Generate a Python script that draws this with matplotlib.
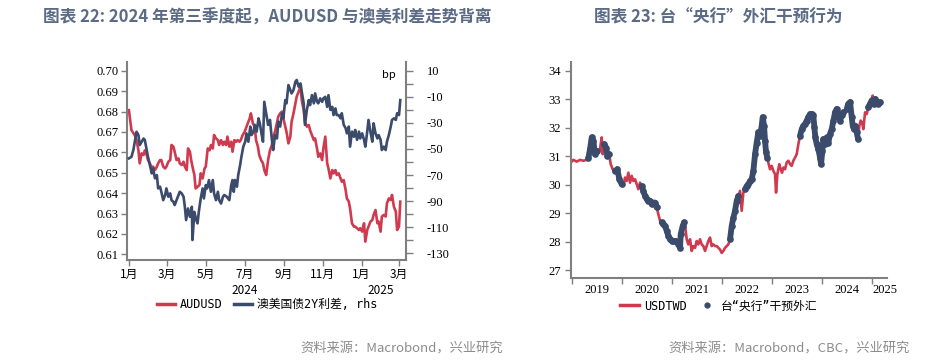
import matplotlib
matplotlib.use("Agg")
import matplotlib.pyplot as plt
import matplotlib.dates as mdates
import matplotlib.transforms as mtrans
from matplotlib.lines import Line2D
import numpy as np
import pandas as pd

# ---------------- data: chart 22 ----------------
base_date = "2024-01-01"
aud_days = [0, 2, 4, 9, 12, 15, 17, 20, 23, 25, 28, 30, 33, 36, 38, 41, 44, 46, 49, 51, 54, 57, 59, 62, 65,
            67, 70, 72, 75, 78, 80, 83, 86, 88, 91, 93, 96, 98, 100, 103, 105, 108, 111, 113, 116, 119, 121,
            124, 127, 129, 132, 134, 137, 140, 142, 145, 148, 150, 153, 155, 158, 161, 163, 166, 169, 171,
            174, 176, 179, 182, 184, 187, 190, 192, 195, 198, 200, 203, 205, 208, 211, 213, 216, 219, 222,
            225, 227, 230, 235, 238, 241, 243, 246, 248, 251, 254, 256, 259, 262, 264, 267, 270, 272, 275,
            277, 280, 283, 285, 288, 291, 293, 296, 298, 301, 304, 306, 309, 312, 314, 317, 320, 322, 325,
            327, 330, 333, 335, 338, 341, 343, 346, 348, 351, 354, 356, 359, 362, 364, 367, 370, 372, 375,
            377, 380, 383, 385, 388, 391, 393, 396, 398, 401, 404, 406, 409, 412, 414, 417, 420, 422, 425, 427]
audusd = [0.6807, 0.6758, 0.6709, 0.6685, 0.6660, 0.6610, 0.6546, 0.6595, 0.6587, 0.6610, 0.6587, 0.6562,
          0.6546, 0.6521, 0.6530, 0.6513, 0.6530, 0.6546, 0.6562, 0.6562, 0.6530, 0.6521, 0.6530, 0.6554,
          0.6562, 0.6636, 0.6628, 0.6603, 0.6562, 0.6570, 0.6546, 0.6538, 0.6554, 0.6530, 0.6513, 0.6619,
          0.6603, 0.6562, 0.6530, 0.6489, 0.6423, 0.6431, 0.6440, 0.6497, 0.6472, 0.6521, 0.6530, 0.6619,
          0.6610, 0.6636, 0.6619, 0.6685, 0.6668, 0.6660, 0.6636, 0.6660, 0.6636, 0.6652, 0.6636, 0.6677,
          0.6628, 0.6652, 0.6603, 0.6660, 0.6652, 0.6660, 0.6652, 0.6660, 0.6685, 0.6700, 0.6717, 0.6742,
          0.6766, 0.6791, 0.6742, 0.6726, 0.6660, 0.6628, 0.6587, 0.6562, 0.6546, 0.6513, 0.6489, 0.6562,
          0.6610, 0.6636, 0.6677, 0.6702, 0.6775, 0.6791, 0.6800, 0.6767, 0.6726, 0.6700, 0.6644, 0.6677,
          0.6750, 0.6791, 0.6840, 0.6873, 0.6897, 0.6922, 0.6856, 0.6807, 0.6750, 0.6726, 0.6734, 0.6709,
          0.6685, 0.6660, 0.6668, 0.6619, 0.6578, 0.6595, 0.6562, 0.6619, 0.6677, 0.6546, 0.6521, 0.6472,
          0.6513, 0.6497, 0.6513, 0.6489, 0.6497, 0.6472, 0.6456, 0.6464, 0.6415, 0.6374, 0.6358, 0.6325,
          0.6252, 0.6236, 0.6236, 0.6228, 0.6219, 0.6228, 0.6211, 0.6252, 0.6162, 0.6219, 0.6236, 0.6260,
          0.6268, 0.6293, 0.6317, 0.6252, 0.6260, 0.6211, 0.6285, 0.6293, 0.6285, 0.6350, 0.6374, 0.6366,
          0.6391, 0.6333, 0.6309, 0.6219, 0.6236, 0.6358]

spread_days = [0, 4, 7, 12, 15, 17, 23, 25, 28, 30, 33, 36, 38, 41, 44, 46, 49, 51, 54, 57, 59, 62, 65, 67,
               70, 72, 75, 78, 80, 83, 86, 88, 90, 93, 96, 99, 100, 103, 106, 108, 110, 113, 116, 118, 121,
               123, 126, 129, 132, 134, 137, 140, 142, 145, 148, 150, 154, 158, 161, 163, 165, 167, 170, 172,
               175, 177, 180, 183, 185, 188, 191, 193, 196, 198, 201, 204, 206, 209, 211, 213, 216, 219, 222,
               225, 227, 230, 233, 235, 238, 241, 243, 246, 248, 251, 254, 256, 259, 262, 264, 267, 270, 272,
               275, 277, 280, 283, 285, 288, 291, 293, 296, 298, 301, 304, 306, 309, 312, 314, 317, 320, 322,
               325, 327, 330, 333, 335, 338, 341, 343, 346, 348, 351, 354, 356, 359, 362, 364, 367, 370, 372,
               375, 377, 380, 383, 385, 388, 391, 393, 396, 398, 401, 404, 406, 409, 412, 414, 417, 420, 422,
               425, 427]
spread_2y = [-57.2, -56.0, -50.8, -36.8, -39.3, -47.0, -42.0, -43.0, -50.8, -56.0, -62.3, -68.7, -64.9, -72.5,
             -70.0, -80.2, -78.9, -82.8, -89.2, -85.3, -80.2, -86.6, -84.0, -89.2, -90.5, -93.0, -89.2, -85.3,
             -82.8, -84.0, -86.6, -94.3, -104.5, -95.6, -102.0, -94.3, -119.8, -98.2, -104.5, -107.0, -98.2,
             -87.9, -80.2, -87.9, -77.7, -80.2, -73.8, -82.8, -73.8, -84.0, -89.2, -82.8, -89.2, -91.8, -86.6,
             -85.3, -86.6, -89.2, -77.7, -73.8, -82.8, -73.8, -78.9, -70.0, -62.3, -56.0, -48.2, -44.4, -38.0,
             -44.4, -32.8, -39.3, -36.7, -31.5, -36.7, -26.5, -30.3, -39.3, -44.4, -13.8, -22.8, -31.5, -27.7,
             -43.0, -50.8, -39.3, -41.9, -29.0, -32.8, -22.6, -26.5, -12.5, -15.0, -1.0, -4.8, -7.4, -4.8, 1.6,
             2.9, -2.2, 0.3, -6.1, -15.0, -31.5, -20.0, -12.5, -16.4, -8.7, -15.0, -7.4, -13.8, -15.0, -11.2,
             -13.8, -11.2, -10.0, -17.7, -8.7, -20.0, -17.7, -24.0, -18.9, -24.0, -24.0, -26.5, -22.6, -31.5,
             -34.0, -38.0, -32.8, -48.2, -36.7, -40.6, -35.4, -43.0, -36.7, -41.9, -38.0, -43.0, -48.2, -36.7,
             -27.7, -36.7, -44.4, -30.3, -38.0, -41.9, -39.3, -43.0, -50.8, -48.2, -50.8, -44.4, -39.3, -32.8,
             -27.7, -26.5, -27.7, -22.6, -24.0, -12.5]

month_ticks = [1, 3, 5, 7, 9, 11]
year_labels_22 = ["2024", "2025"]
year_label_dates_22 = ["2024-07-01", "2025-02-01"]

# ---------------- data: chart 23 ----------------
twd_time = [2019.000, 2019.033, 2019.100, 2019.167, 2019.233, 2019.300, 2019.333, 2019.367, 2019.400, 2019.433,
            2019.467, 2019.500, 2019.533, 2019.567, 2019.600, 2019.620, 2019.647, 2019.687, 2019.713, 2019.750,
            2019.780, 2019.820, 2019.867, 2019.913, 2019.953, 2020.000, 2020.033, 2020.067, 2020.100, 2020.133,
            2020.167, 2020.200, 2020.233, 2020.267, 2020.300, 2020.333, 2020.367, 2020.400, 2020.433, 2020.467,
            2020.500, 2020.533, 2020.567, 2020.600, 2020.633, 2020.667, 2020.700, 2020.733, 2020.767, 2020.800,
            2020.833, 2020.867, 2020.900, 2020.933, 2020.967, 2021.000, 2021.033, 2021.067, 2021.100, 2021.133,
            2021.167, 2021.180, 2021.220, 2021.247, 2021.273, 2021.300, 2021.333, 2021.367, 2021.400, 2021.433,
            2021.467, 2021.500, 2021.533, 2021.567, 2021.600, 2021.633, 2021.667, 2021.700, 2021.733, 2021.767,
            2021.800, 2021.833, 2021.867, 2021.900, 2021.933, 2021.967, 2022.000, 2022.033, 2022.067, 2022.100,
            2022.133, 2022.167, 2022.200, 2022.233, 2022.267, 2022.300, 2022.333, 2022.367, 2022.400, 2022.433,
            2022.467, 2022.500, 2022.533, 2022.567, 2022.600, 2022.633, 2022.667, 2022.700, 2022.733, 2022.767,
            2022.800, 2022.820, 2022.847, 2022.867, 2022.887, 2022.913, 2022.940, 2022.967, 2023.000, 2023.033,
            2023.067, 2023.087, 2023.113, 2023.153, 2023.180, 2023.207, 2023.233, 2023.267, 2023.300, 2023.333,
            2023.367, 2023.400, 2023.433, 2023.467, 2023.500, 2023.533, 2023.567, 2023.600, 2023.633, 2023.667,
            2023.700, 2023.733, 2023.767, 2023.800, 2023.833, 2023.853, 2023.873, 2023.900, 2023.933, 2023.967,
            2023.987, 2024.013, 2024.033, 2024.067, 2024.100, 2024.133, 2024.167, 2024.200, 2024.233, 2024.267,
            2024.300, 2024.333, 2024.367, 2024.400, 2024.433, 2024.467, 2024.500, 2024.533, 2024.567, 2024.600,
            2024.620, 2024.647, 2024.673, 2024.700, 2024.727, 2024.753, 2024.780, 2024.807, 2024.833, 2024.867,
            2024.900, 2024.933, 2024.967, 2025.000, 2025.020, 2025.047, 2025.073, 2025.100, 2025.133, 2025.167]
usdtwd = [30.81, 30.87, 30.81, 30.87, 30.84, 30.87, 30.93, 31.25, 31.66, 31.54,
          31.07, 31.19, 31.13, 31.25, 31.66, 31.07, 31.42, 31.30, 31.01, 31.07,
          30.72, 30.54, 30.48, 30.54, 30.19, 30.01, 29.95, 30.25, 30.13, 30.42,
          30.07, 30.31, 30.13, 30.19, 30.01, 29.84, 30.07, 29.95, 29.78, 29.60,
          29.49, 29.43, 29.43, 29.31, 29.37, 29.37, 29.20, 28.96, 28.73, 28.67,
          28.61, 28.55, 28.37, 28.20, 28.08, 28.02, 28.02, 28.02, 28.08, 27.90,
          27.78, 28.26, 28.55, 28.67, 28.49, 28.08, 27.90, 28.08, 27.67, 27.84,
          27.78, 28.02, 27.90, 28.08, 27.90, 27.84, 27.67, 27.84, 28.02, 28.14,
          27.84, 27.90, 27.84, 27.84, 27.78, 27.72, 27.60, 27.67, 27.78, 27.84,
          27.90, 28.08, 28.55, 28.84, 29.08, 29.43, 29.60, 29.78, 29.08, 29.72,
          29.84, 29.95, 30.01, 30.13, 30.19, 30.48, 31.07, 31.48, 31.84, 31.72,
          32.07, 32.37, 32.07, 31.54, 31.13, 30.95, 30.72, 30.54, 30.66, 30.48,
          30.37, 29.72, 30.37, 30.72, 30.54, 30.42, 30.60, 30.54, 30.78, 30.84,
          30.72, 30.66, 30.84, 30.95, 31.07, 31.42, 31.72, 31.95, 32.07, 32.13,
          32.25, 32.37, 32.48, 32.48, 32.43, 32.01, 31.66, 31.42, 31.25, 30.95,
          30.72, 31.19, 31.60, 31.42, 31.66, 31.48, 31.78, 31.95, 32.25, 32.54,
          32.66, 32.43, 32.25, 32.43, 32.54, 32.48, 32.66, 32.84, 32.90, 32.37,
          32.07, 31.95, 32.07, 31.84, 31.60, 32.07, 32.25, 32.19, 31.95, 32.54,
          32.48, 32.72, 32.84, 32.96, 33.13, 32.84, 33.01, 32.90, 32.84, 32.90]
intervention = [0, 0, 0, 0, 0, 0, 1, 1, 1, 1,
                1, 1, 0, 0, 0, 0, 1, 1, 1, 1,
                0, 0, 1, 1, 1, 1, 0, 0, 0, 0,
                0, 0, 0, 0, 0, 0, 0, 1, 1, 1,
                1, 1, 1, 1, 1, 1, 1, 0, 0, 1,
                1, 1, 1, 1, 1, 1, 1, 1, 0, 1,
                1, 1, 1, 1, 0, 0, 0, 0, 0, 0,
                0, 0, 0, 0, 0, 0, 0, 0, 0, 0,
                0, 0, 0, 0, 0, 0, 0, 0, 0, 0,
                0, 1, 1, 1, 1, 1, 1, 0, 0, 0,
                1, 1, 1, 1, 1, 1, 1, 1, 1, 1,
                1, 1, 1, 1, 1, 1, 0, 0, 0, 0,
                0, 0, 0, 0, 0, 0, 0, 0, 0, 0,
                0, 0, 0, 0, 0, 0, 1, 1, 1, 1,
                1, 1, 1, 1, 1, 1, 1, 1, 1, 1,
                1, 1, 1, 1, 1, 1, 1, 1, 1, 1,
                1, 1, 1, 1, 1, 0, 1, 1, 1, 1,
                1, 1, 1, 1, 1, 0, 0, 0, 0, 0,
                0, 1, 1, 1, 0, 1, 1, 1, 1, 1]
year_ticks_23 = [2019, 2020, 2021, 2022, 2023, 2024, 2025]
year_label_pos_23 = [2019.5, 2020.5, 2021.5, 2022.5, 2023.5, 2024.5, 2025.27]

# ---------------- style ----------------
RED = "#cf3a4f"
NAVY = "#3b4b6b"
SPINE = "#7f7f7f"
TITLE_C = "#5b6b85"
SRC_C = "#8c8c8c"
CJK = ["Noto Sans CJK SC", "DejaVu Sans"]
LEG = ["DejaVu Sans Mono", "Noto Sans CJK SC"]
SERIF = "Liberation Serif"

plt.rcParams["font.family"] = CJK

W, H = 930, 364
fig = plt.figure(figsize=(W / 100, H / 100), dpi=100)

def fx(px):
    return px / W

def fy(py):
    return 1 - py / H

# ---------------- chart 22 ----------------
ax = fig.add_axes([fx(127), fy(260), fx(406) - fx(127), fy(62) - fy(260)])
ax2 = ax.twinx()

d0 = pd.Timestamp(base_date)
aud_x = [d0 + pd.Timedelta(days=d) for d in aud_days]
spr_x = [d0 + pd.Timedelta(days=d) for d in spread_days]

ax.plot(aud_x, audusd, color=RED, lw=1.9, solid_joinstyle="round")
ax2.plot(spr_x, spread_2y, color=NAVY, lw=1.9, solid_joinstyle="round")

ax.set_xlim(pd.Timestamp("2023-12-29"), pd.Timestamp("2025-03-12"))
ax.set_ylim(0.6072, 0.7043)
ax2.set_ylim(-135.1, 16.7)

ax.set_yticks(np.round(np.arange(0.61, 0.7001, 0.01), 2))
ax.set_yticklabels([f"{v:.2f}" for v in np.arange(0.61, 0.7001, 0.01)], fontfamily=SERIF, fontsize=9)
ax2.set_yticks(np.arange(-130, 11, 20))
ax2.set_yticklabels([str(v) for v in np.arange(-130, 11, 20)], fontfamily=SERIF, fontsize=9)
ax2.set_yticks(np.arange(-120, 10, 20), minor=True)

ax.xaxis.set_major_locator(mdates.MonthLocator(bymonth=month_ticks))
ax.xaxis.set_major_formatter(mdates.DateFormatter("%-m月"))
for lab in ax.get_xticklabels():
    lab.set_fontsize(8.5)

for a in (ax, ax2):
    a.spines["top"].set_visible(False)
    for s in ("left", "right", "bottom"):
        a.spines[s].set_color(SPINE)
        a.spines[s].set_linewidth(1.5)
ax.spines["right"].set_visible(False)
ax2.spines["left"].set_visible(False)
ax2.spines["bottom"].set_visible(False)
ax.tick_params(axis="both", which="major", direction="out", length=4, width=1, color=SPINE, pad=2)
ax.tick_params(axis="x", labelsize=8.5, pad=2)
ax2.tick_params(axis="y", which="both", direction="out", length=5, width=1, color=SPINE, pad=10)

tr = mtrans.blended_transform_factory(ax.transData, fig.transFigure)
for lab, dt in zip(year_labels_22, year_label_dates_22):
    ax.text(pd.Timestamp(dt), fy(291), lab, transform=tr, ha="center", va="center", fontsize=8.5)

ax2.text(0.965, 0.96, "bp", transform=ax2.transAxes, ha="right", va="top", fontsize=8)

h1 = [Line2D([], [], color=RED, lw=2.5), Line2D([], [], color=NAVY, lw=2.5)]
ax.legend(h1, ["AUDUSD", "澳美国债2Y利差, rhs"], loc="center", bbox_to_anchor=(fx(267), fy(305)),
          bbox_transform=fig.transFigure, ncol=2, frameon=False, handlelength=1.6, handletextpad=0.4,
          columnspacing=0.9, prop={"family": LEG, "size": 8.5})

fig.text(fx(267), fy(18), "图表 22: 2024 年第三季度起，AUDUSD 与澳美利差走势背离", ha="center", va="center",
         fontsize=12, fontweight="bold", color=TITLE_C)
fig.text(fx(503), fy(349), "资料来源：Macrobond，兴业研究", ha="right", va="center", fontsize=9.5, color=SRC_C)

# ---------------- chart 23 ----------------
bx = fig.add_axes([fx(570.7), fy(277.7), fx(887) - fx(570.7), fy(61.7) - fy(277.7)])
t = np.array(twd_time)
v = np.array(usdtwd)
m = np.array(intervention) == 1
bx.plot(t, v, color=RED, lw=1.9, zorder=2)
# intervention periods: beaded chain of dots along the series
v_int = np.where(m, v, np.nan)
bx.plot(t, v_int, color=NAVY, lw=4.2, solid_capstyle="round", solid_joinstyle="round", zorder=3)
bx.plot(t[m], v[m], "o", color=NAVY, ms=4.8, mew=0, zorder=4)
bx.set_xlim(2018.98, 2025.306)
bx.set_ylim(26.73, 34.32)
bx.set_yticks(range(27, 35))
bx.set_yticklabels([str(y) for y in range(27, 35)], fontfamily=SERIF, fontsize=9)
bx.set_xticks(year_ticks_23)
bx.set_xticklabels([])
for s in ("top", "right"):
    bx.spines[s].set_visible(False)
for s in ("left", "bottom"):
    bx.spines[s].set_color(SPINE)
    bx.spines[s].set_linewidth(1.5)
bx.tick_params(axis="both", direction="out", length=4, width=1, color=SPINE, pad=3)
tr2 = mtrans.blended_transform_factory(bx.transData, fig.transFigure)
for yr, pos in zip(year_ticks_23, year_label_pos_23):
    bx.text(pos, fy(290), str(yr), transform=tr2, ha="center", va="center", fontfamily=SERIF, fontsize=9)

h2 = [Line2D([], [], color=RED, lw=2.5), Line2D([], [], color=NAVY, marker="o", ms=3.5, lw=0)]
bx.legend(h2, ["USDTWD", "台“央行”干预外汇"], loc="center", bbox_to_anchor=(fx(719), fy(306)),
          bbox_transform=fig.transFigure, ncol=2, frameon=False, handlelength=1.6, handletextpad=0.4,
          columnspacing=0.9, prop={"family": LEG, "size": 8.5})

fig.text(fx(718), fy(18), "图表 23: 台“央行”外汇干预行为", ha="center", va="center",
         fontsize=12, fontweight="bold", color=TITLE_C)
fig.text(fx(910), fy(349), "资料来源：Macrobond，CBC，兴业研究", ha="right", va="center", fontsize=9.5, color=SRC_C)

fig.savefig("out.png", dpi=100)
